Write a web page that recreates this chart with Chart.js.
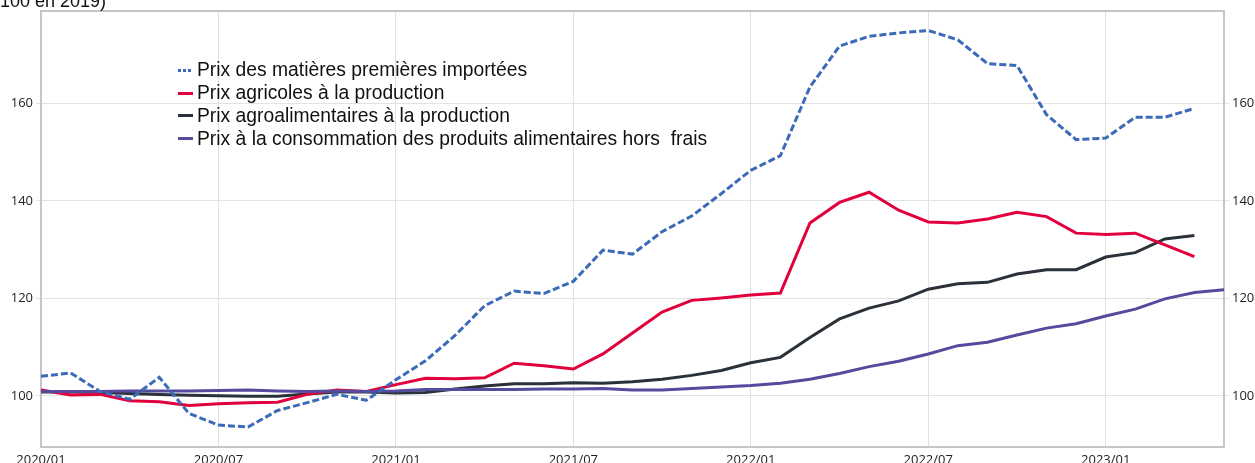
<!DOCTYPE html>
<html><head><meta charset="utf-8">
<script src="https://cdn.jsdelivr.net/npm/chart.js@4/dist/chart.umd.min.js"></script>
<style>
html,body{margin:0;padding:0;background:#fff;overflow:hidden}
#wrap{position:relative;width:1255px;height:463px;overflow:hidden}
canvas{position:absolute;left:0;top:0}
#title{position:absolute;left:0;top:-8px;font:18px/18px "Liberation Sans",Arial,sans-serif;color:#111;white-space:nowrap}
#legend{position:absolute;left:178px;top:59px;font:19.3px "Liberation Sans",Arial,sans-serif;color:#111}
.row{height:22.8px;display:flex;align-items:center;white-space:pre}
.mk{width:15px;height:3px;margin-right:4px;flex:none}
</style></head>
<body>
<div id="wrap">
<canvas id="c" width="1255" height="463"></canvas>
<div id="title">100 en 2019)</div>
<div id="legend"></div>
</div>
<script>
const months = ["2020/01","2020/02","2020/03","2020/04","2020/05","2020/06","2020/07","2020/08","2020/09","2020/10","2020/11","2020/12",
"2021/01","2021/02","2021/03","2021/04","2021/05","2021/06","2021/07","2021/08","2021/09","2021/10","2021/11","2021/12",
"2022/01","2022/02","2022/03","2022/04","2022/05","2022/06","2022/07","2022/08","2022/09","2022/10","2022/11","2022/12",
"2023/01","2023/02","2023/03","2023/04","2023/05"];

const seriesNames = ["Prix des matières premières importées","Prix agricoles à la production","Prix agroalimentaires à la production","Prix à la consommation des produits alimentaires hors  frais"];

const matieresPremieres = [104.0,104.7,100.9,99.3,103.8,96.4,94.0,93.6,97.0,98.6,100.3,99.1,103.3,107.2,112.4,118.5,121.5,121.0,123.5,129.9,129.1,133.7,136.9,141.5,146.3,149.3,163.4,171.8,173.8,174.5,175.0,173.1,168.2,167.8,157.7,152.6,152.9,157.2,157.2,159.0];
const agricoles = [101.2,100.2,100.3,99.0,98.8,98.0,98.4,98.6,98.7,100.3,101.2,100.9,102.3,103.6,103.5,103.7,106.7,106.2,105.5,108.6,112.9,117.2,119.6,120.1,120.7,121.1,135.5,139.7,141.8,138.1,135.7,135.5,136.3,137.7,136.8,133.4,133.1,133.4,131.0,128.6];
const agroalimentaires = [100.8,100.8,100.7,100.5,100.3,100.1,100.0,99.9,99.9,100.4,100.8,100.8,100.6,100.7,101.4,102.0,102.5,102.5,102.7,102.6,102.9,103.4,104.2,105.2,106.8,107.9,112.0,115.8,118.0,119.5,121.9,123.0,123.3,125.0,125.9,125.9,128.5,129.4,132.2,132.9];
const consommation = [100.9,100.9,100.9,101.0,101.0,101.0,101.1,101.2,101.0,100.9,101.0,100.9,101.0,101.3,101.3,101.3,101.3,101.4,101.4,101.5,101.2,101.2,101.5,101.8,102.1,102.6,103.4,104.6,106.0,107.1,108.6,110.3,111.0,112.5,113.9,114.8,116.4,117.8,119.9,121.2,121.8];

const yMin = 89.5, yMax = 179;
const colors = ["#3b6bb8","#e2003c","#2a3139","#544a9e"];
const seriesData = [matieresPremieres, agricoles, agroalimentaires, consommation];
const dashes = [[7,3],[],[],[]];
const orders = [0,2,3,1];

// HTML legend
const leg = document.getElementById('legend');
seriesNames.forEach((n,i)=>{
  const row = document.createElement('div'); row.className='row';
  const mk = document.createElement('span'); mk.className='mk';
  if (i===0) mk.style.background = `repeating-linear-gradient(90deg, ${colors[i]} 0 3px, transparent 3px 5px)`;
  else mk.style.background = colors[i];
  const tx = document.createElement('span'); tx.textContent = n;
  row.appendChild(mk); row.appendChild(tx); leg.appendChild(row);
});

const topBorder = {
  id:'topBorder',
  beforeDatasetsDraw(chart){
    const {ctx, chartArea:a} = chart;
    ctx.save(); ctx.strokeStyle='#c6c6c6'; ctx.lineWidth=2;
    ctx.beginPath(); ctx.moveTo(a.left, a.top); ctx.lineTo(a.right, a.top); ctx.stroke();
    ctx.restore();
  }
};

const tickFont = {family:"'Open Sans', 'Noto Sans', sans-serif", size:13};
const yAxisCommon = {
  min:yMin, max:yMax,
  ticks:{stepSize:20, includeBounds:false, font:tickFont, color:'#222', padding:3},
  border:{color:'#c6c6c6', width:2}
};

new Chart(document.getElementById('c'), {
  type:'line',
  data:{
    labels:months,
    datasets: seriesData.map((d,i)=>({
      label:seriesNames[i], data:d, borderColor:colors[i], backgroundColor:colors[i],
      borderWidth:3, borderDash:dashes[i], pointRadius:0, tension:0, fill:false, order:orders[i],
      yAxisID:'y'
    }))
  },
  options:{
    responsive:false, animation:false, devicePixelRatio:1,
    layout:{padding:{top:11,left:0,right:0,bottom:0}},
    plugins:{legend:{display:false}, tooltip:{enabled:false}},
    scales:{
      x:{
        type:'category',
        grid:{color:'#e2e2e2', drawTicks:false},
        border:{color:'#c6c6c6', width:2},
        ticks:{autoSkip:false, maxRotation:0, padding:5, font:tickFont, color:'#222'},
        afterBuildTicks:s=>{ s.ticks = s.ticks.filter(t=>t.value%6===0); },
        afterFit:s=>{ s.height=16; }
      },
      y:{...yAxisCommon, position:'left',
        grid:{color:'#e2e2e2', tickLength:5},
        afterFit:s=>{ s.width=41; }
      },
      y2:{...yAxisCommon, position:'right',
        grid:{drawOnChartArea:false, color:'#e2e2e2', tickLength:5},
        afterFit:s=>{ s.width=31; }
      }
    }
  },
  plugins:[topBorder]
});
</script>
</body></html>
